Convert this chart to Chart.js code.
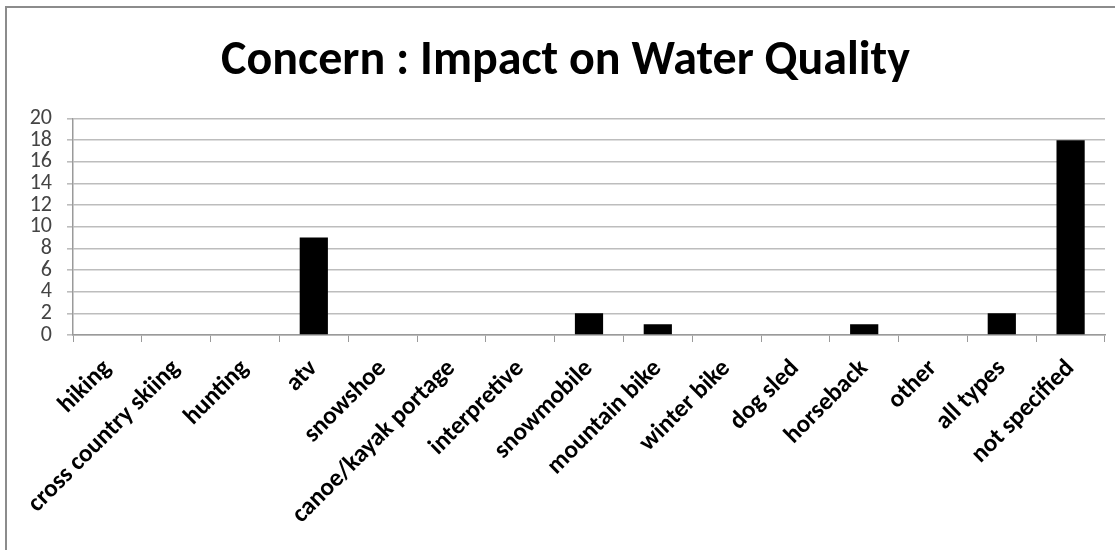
<!DOCTYPE html>
<html>
<head>
<meta charset="utf-8">
<script src="https://cdn.jsdelivr.net/npm/chart.js@4/dist/chart.umd.min.js"></script>
<style>
  html, body { margin: 0; padding: 0; background: #fff; }
  #wrap { position: relative; width: 1115px; height: 550px; overflow: hidden; }
  #frame { position: absolute; left: 5px; top: 6px; width: 1200px; height: 700px;
           border-left: 2px solid #8c8c8c; border-top: 2px solid #8c8c8c; }
  canvas { position: absolute; left: 0; top: 0; }
</style>
</head>
<body>
<div id="wrap">
  <div id="frame"></div>
  <canvas id="waterChart" width="1115" height="550"></canvas>
</div>
<script>
// Concern : Impact on Water Quality

const categories = ['hiking', 'cross country skiing', 'hunting', 'atv', 'snowshoe',
    'canoe/kayak portage', 'interpretive', 'snowmobile', 'mountain bike', 'winter bike',
    'dog sled', 'horseback', 'other', 'all types', 'not specified'];
const counts = [0, 0, 0, 9, 0, 0, 0, 2, 1, 0, 0, 1, 0, 2, 18];
const yMax = 20;
const yStep = 2;

const fontFamily = 'Carlito, Lato, "Open Sans", sans-serif';

new Chart(document.getElementById('waterChart'), {
    type: 'bar',
    data: {
        labels: categories,
        datasets: [{
            label: 'Concern',
            data: counts,
            backgroundColor: '#000',
            borderWidth: 0,
            barPercentage: 0.41,
            categoryPercentage: 1
        }]
    },
    options: {
        responsive: false,
        animation: false,
        layout: {
            // left padding nudges the title centre right, like the original
            padding: { left: 26, right: 10, top: 0, bottom: 0 }
        },
        plugins: {
            legend: { display: false },
            tooltip: { enabled: false },
            title: {
                display: true,
                text: 'Concern : Impact on Water Quality',
                color: '#000',
                font: { family: fontFamily, size: 48, weight: 'bold', lineHeight: 1.2 },
                padding: { top: 33, bottom: 28 }
            }
        },
        scales: {
            x: {
                afterFit: function (scale) { scale.height = 215; },
                grid: {
                    display: true,
                    drawOnChartArea: false,
                    drawTicks: true,
                    tickLength: 7,
                    color: '#9a9a9a',
                    lineWidth: 1
                },
                border: { display: true, color: '#9a9a9a', width: 1.5 },
                ticks: {
                    autoSkip: false,
                    maxRotation: 45,
                    minRotation: 45,
                    padding: 12,
                    color: '#000',
                    font: { family: fontFamily, size: 25, weight: 'bold' }
                }
            },
            y: {
                min: 0,
                max: yMax,
                afterFit: function (scale) { scale.width = 47; },
                grid: {
                    color: '#bdbdbd',
                    lineWidth: 1.6,
                    tickLength: 6
                },
                border: { display: true, color: '#9a9a9a', width: 1.5 },
                ticks: {
                    autoSkip: false,
                    stepSize: yStep,
                    padding: 15,
                    color: '#444',
                    font: { family: fontFamily, size: 22, lineHeight: 1 }
                }
            }
        }
    }
});
</script>
</body>
</html>
